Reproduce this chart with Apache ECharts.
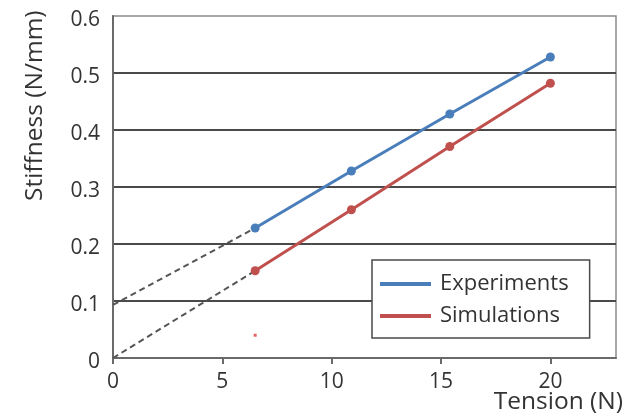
<!DOCTYPE html>
<html>
<head>
<meta charset="utf-8">
<script src="https://cdn.jsdelivr.net/npm/echarts@6/dist/echarts.min.js"></script>
<style>
html,body{margin:0;padding:0;background:#fff;}
#c{width:636px;height:417px;}
</style>
</head>
<body>
<div id="c"></div>
<script>
// Data
var tension = [6.5, 10.9, 15.4, 20];
var experiments = [0.228, 0.328, 0.428, 0.528];
var simulations = [0.153, 0.260, 0.371, 0.482];
var expExtrapX = [0, 6.5];
var expExtrapY = [0.093, 0.228];
var simExtrapX = [0, 6.5];
var simExtrapY = [0, 0.153];
var strayPoint = [[6.5, 0.04]];
var xTicks = [0, 5, 10, 15, 20];
var seriesNames = ['Experiments', 'Simulations'];

function pairs(xs, ys) { return xs.map(function (x, i) { return [x, ys[i]]; }); }

var FONT = 'Open Sans';
var TXT = '#333';
var chart = echarts.init(document.getElementById('c'), null, { renderer: 'canvas' });
chart.setOption({
  animation: false,
  backgroundColor: '#fff',
  grid: {
    left: 113, top: 16, right: 20, bottom: 59,
    show: true, borderColor: '#8a8a8a', borderWidth: 1.5, backgroundColor: 'transparent'
  },
  xAxis: {
    type: 'value', min: 0, max: 23, interval: 5,
    axisLine: { show: true, onZero: false, lineStyle: { color: '#6a6a6a', width: 2 } },
    axisTick: { show: true, customValues: xTicks, length: 6, inside: false, lineStyle: { color: '#6a6a6a', width: 2 } },
    axisLabel: { customValues: xTicks, color: TXT, fontFamily: FONT, fontSize: 21, margin: 14 },
    splitLine: { show: false }
  },
  yAxis: {
    type: 'value', min: 0, max: 0.6, interval: 0.1,
    axisLine: { show: true, lineStyle: { color: '#6a6a6a', width: 2 } },
    axisTick: { show: false },
    axisLabel: { color: TXT, fontFamily: FONT, fontSize: 21, margin: 13, verticalAlign: 'top', lineHeight: 9 },
    splitLine: { show: true, showMaxLine: false, lineStyle: { color: '#4a4a4a', width: 2 } }
  },
  legend: {
    data: seriesNames,
    orient: 'vertical',
    left: 372, top: 260,
    backgroundColor: '#fff',
    borderColor: '#4a4a4a', borderWidth: 1.5, borderRadius: 0,
    padding: [13, 21, 11, 8],
    itemGap: 10,
    itemWidth: 51, itemHeight: 4,
    icon: 'rect',
    textStyle: { color: TXT, fontFamily: FONT, fontSize: 22, padding: [0, 0, 0, 4] }
  },
  graphic: [
    {
      type: 'text', rotation: Math.PI / 2, x: 23, y: 201,
      style: { text: 'Stiffness (N/mm)', fill: TXT, font: '24.5px "Open Sans"' }
    },
    {
      type: 'text', right: 13, top: 390,
      style: { text: 'Tension (N)', fill: TXT, font: '24.5px "Open Sans"' }
    }
  ],
  series: [
    {
      name: 'expExtrap', type: 'line', data: pairs(expExtrapX, expExtrapY),
      symbol: 'none', silent: true, z: 1,
      lineStyle: { color: '#555', width: 2, type: [6, 4] }
    },
    {
      name: 'simExtrap', type: 'line', data: pairs(simExtrapX, simExtrapY),
      symbol: 'none', silent: true, z: 1,
      lineStyle: { color: '#555', width: 2, type: [6, 4] }
    },
    {
      name: seriesNames[0], type: 'line', data: pairs(tension, experiments),
      symbol: 'circle', symbolSize: 9, z: 3,
      itemStyle: { color: '#4a7ebb' },
      lineStyle: { color: '#4a7ebb', width: 3 }
    },
    {
      name: seriesNames[1], type: 'line', data: pairs(tension, simulations),
      symbol: 'circle', symbolSize: 9, z: 3,
      itemStyle: { color: '#c0504d' },
      lineStyle: { color: '#c0504d', width: 3 }
    },
    {
      name: 'stray', type: 'scatter', data: strayPoint,
      symbol: 'rect', symbolSize: 3, silent: true,
      itemStyle: { color: '#e03a3a' }
    }
  ]
});
</script>
</body>
</html>
